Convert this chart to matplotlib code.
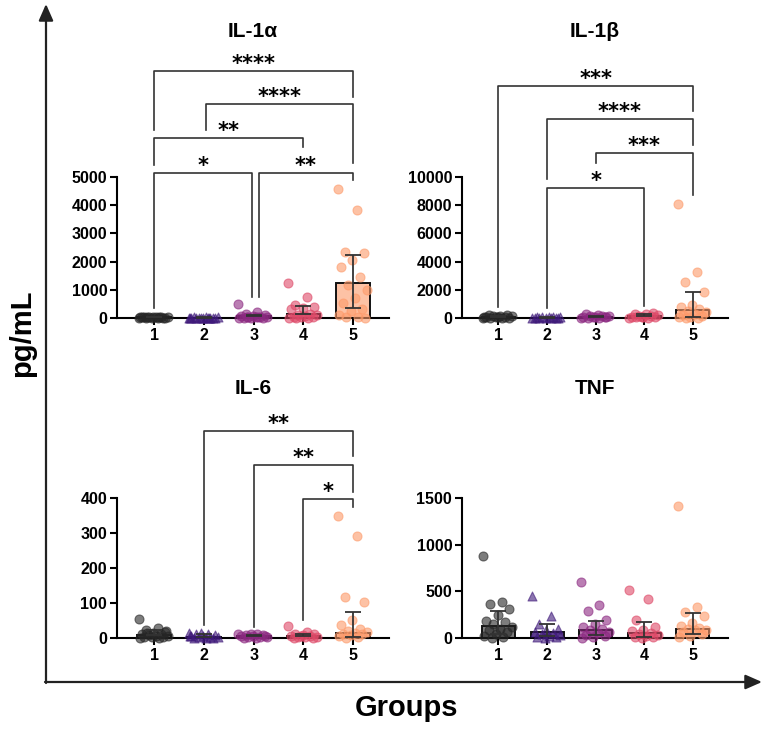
import numpy as np
import matplotlib.pyplot as plt
from matplotlib.colors import to_rgba

plt.rcParams['font.family'] = ['Liberation Sans', 'DejaVu Sans']
plt.rcParams['font.weight'] = 'bold'

groups = ['1', '2', '3', '4', '5']
colors = ['#262626', '#3f1a7a', '#8c2981', '#de4968', '#fd9a6a']
markers = ['o', '^', 'o', 'o', 'o']

# IL-1alpha (pg/mL)
il1a_pts = [
    [0, 5, 10, 15, 20, 25, 30, 35, 40, 45, 50, 12, 8, 18, 22, 28],
    [0, 2, 4, 6, 8, 10, 12, 15, 18, 20, 25, 5, 3, 9, 14],
    [480, 220, 150, 100, 80, 60, 50, 40, 30, 20, 10, 5, 0, 15, 25, 35],
    [1240, 740, 460, 400, 340, 300, 150, 120, 100, 80, 50, 30, 20, 10, 5, 0],
    [4570, 3830, 2340, 2300, 2060, 1810, 1450, 1170, 990, 700, 530, 300, 250, 100, 50, 20, 0],
]
il1a_bar = [20, 10, 60, 140, 1240]
il1a_lo = [20, 10, 60, 140, 355]
il1a_hi = [40, 20, 120, 425, 2234]

# IL-1beta
il1b_pts = [
    [0, 10, 20, 30, 50, 70, 90, 110, 130, 150, 180, 200, 40, 60],
    [0, 5, 10, 15, 20, 30, 40, 50, 60, 80, 100, 25],
    [0, 10, 30, 50, 70, 90, 110, 130, 160, 200, 250, 40, 80],
    [0, 20, 40, 60, 80, 100, 130, 160, 200, 250, 300, 380, 50],
    [8090, 3260, 2550, 1840, 920, 800, 650, 500, 400, 300, 200, 150, 100, 50, 20, 0],
]
il1b_bar = [60, 30, 80, 120, 570]
il1b_lo = [60, 30, 80, 120, 100]
il1b_hi = [150, 60, 150, 250, 1840]

# IL-6
il6_pts = [
    [54, 29, 22, 18, 15, 12, 10, 8, 6, 5, 4, 3, 2, 1, 0, 14, 20],
    [15, 12, 10, 8, 6, 5, 4, 3, 2, 1, 0, 0, 14, 7],
    [12, 10, 8, 7, 6, 5, 4, 3, 2, 1, 0, 9, 11],
    [34, 18, 12, 10, 8, 6, 5, 4, 3, 2, 1, 0, 7],
    [349, 291, 117, 103, 51, 37, 25, 20, 18, 15, 12, 10, 8, 5, 3, 0],
]
il6_bar = [9, 4, 5, 5, 14]
il6_lo = [9, 4, 5, 5, 3]
il6_hi = [22, 10, 9, 12, 74]

# TNF
tnf_pts = [
    [883, 383, 362, 309, 245, 181, 170, 150, 120, 100, 80, 60, 40, 20, 10, 0],
    [447, 234, 150, 100, 80, 60, 50, 40, 30, 20, 10, 5, 0],
    [596, 351, 287, 192, 150, 120, 100, 80, 60, 50, 30, 20, 10, 0],
    [511, 415, 192, 120, 90, 70, 50, 40, 30, 20, 10, 5, 0],
    [1415, 330, 277, 240, 160, 130, 110, 100, 90, 80, 60, 40, 20, 10],
]
tnf_bar = [128, 64, 85, 53, 96]
tnf_lo = [40, 20, 30, 15, 40]
tnf_hi = [287, 149, 180, 170, 266]

# significance brackets: (left x, right x, top y, left leg end, right leg end, label)
il1a_sig = [
    (1, 2.96, 5142, 355, 745, '*'),
    (3.1, 5, 5142, 745, 4894, '**'),
    (1, 4, 6383, 5425, 6064, '**'),
    (2.05, 5, 7589, 6667, 5496, '****'),
    (1, 5, 8759, 6667, 7837, '****'),
]
il1b_sig = [
    (1, 5, 16454, 780, 14680, '***'),
    (2, 5, 14113, 9858, 12269, '****'),
    (3, 5, 11702, 10993, 8723, '***'),
    (2, 4, 9220, 709, 851, '*'),
]
il6_sig = [
    (2, 5, 591, 37, 520, '**'),
    (3, 5, 494, 31, 417, '**'),
    (4, 5, 397, 51, 374, '*'),
]


def spread(n):
    # deterministic horizontal spread of the points inside a bar
    k = np.arange(n)
    return ((k * 0.618034) % 1 - 0.5) * 0.62


def panel(ax, title, title_y, pts, bar, lo, hi, ymax, yticks, sig):
    x = np.arange(1, 6)
    bar = np.array(bar, dtype=float)
    ax.bar(x, bar, width=0.68, color=[to_rgba(c, 0.6) for c in colors],
           edgecolor='#111111', linewidth=1.4, zorder=2)
    for i, vals in enumerate(pts):
        ax.scatter(x[i] + spread(len(vals)), vals, s=42, marker=markers[i],
                   color=colors[i], alpha=0.6, edgecolors=colors[i],
                   linewidths=0.8, clip_on=False, zorder=3)
    ax.errorbar(x, bar, yerr=[bar - np.array(lo), np.array(hi) - bar], fmt='none',
                ecolor='#333333', elinewidth=1.3, capsize=6, capthick=1.3, zorder=4)
    ax.set_xlim(0.25, 5.72)
    ax.set_ylim(0, ymax)
    ax.set_yticks(yticks)
    ax.set_xticks(x, groups)
    for s in ['top', 'right']:
        ax.spines[s].set_visible(False)
    for s in ['left', 'bottom']:
        ax.spines[s].set_linewidth(1.5)
    ax.tick_params(length=5, width=1.5, labelsize=11.5, pad=2)
    ax.text(0.5, title_y, title, transform=ax.transAxes, ha='center', va='center',
            fontsize=15, fontweight='bold')
    for x1, x2, yt, y1, y2, lab in sig:
        ax.plot([x1, x1, x2, x2], [y1, yt, yt, y2], color='#333333', lw=1.2,
                clip_on=False, zorder=1)
        ax.annotate(lab, xy=((x1 + x2) / 2, yt), xytext=(0, 1), textcoords='offset points',
                    ha='center', va='baseline', fontsize=15, fontweight='bold',
                    family='DejaVu Sans', annotation_clip=False)


fig = plt.figure(figsize=(7.67, 7.36), dpi=100)

bg = fig.add_axes([0, 0, 1, 1], zorder=-1)
bg.axis('off')
bg.set_xlim(0, 767)
bg.set_ylim(736, 0)
arrow = dict(arrowstyle='-|>,head_length=0.5,head_width=0.22', lw=1.6,
             color='#222222', mutation_scale=20, shrinkA=0, shrinkB=0)
bg.annotate('', xy=(762, 682), xytext=(45, 682), arrowprops=arrow)
bg.annotate('', xy=(46, 4), xytext=(46, 683), arrowprops=arrow)
bg.text(22, 333, 'pg/mL', rotation=90, ha='center', va='center', fontsize=21,
        fontweight='bold')
bg.text(407, 708, 'Groups', ha='center', va='center', fontsize=21, fontweight='bold')

ax1 = fig.add_axes([0.1525, 0.568, 0.3546, 0.1916])
ax2 = fig.add_axes([0.6023, 0.568, 0.3468, 0.1916])
ax3 = fig.add_axes([0.1525, 0.1332, 0.3546, 0.1902])
ax4 = fig.add_axes([0.6023, 0.1332, 0.3468, 0.1902])

panel(ax1, 'IL-1α', 2.03, il1a_pts, il1a_bar, il1a_lo, il1a_hi, 5000,
      [0, 1000, 2000, 3000, 4000, 5000], il1a_sig)
panel(ax2, 'IL-1β', 2.03, il1b_pts, il1b_bar, il1b_lo, il1b_hi, 10000,
      [0, 2000, 4000, 6000, 8000, 10000], il1b_sig)
panel(ax3, 'IL-6', 1.78, il6_pts, il6_bar, il6_lo, il6_hi, 400,
      [0, 100, 200, 300, 400], il6_sig)
panel(ax4, 'TNF', 1.78, tnf_pts, tnf_bar, tnf_lo, tnf_hi, 1500,
      [0, 500, 1000, 1500], [])

fig.savefig('out.png', dpi=100)
